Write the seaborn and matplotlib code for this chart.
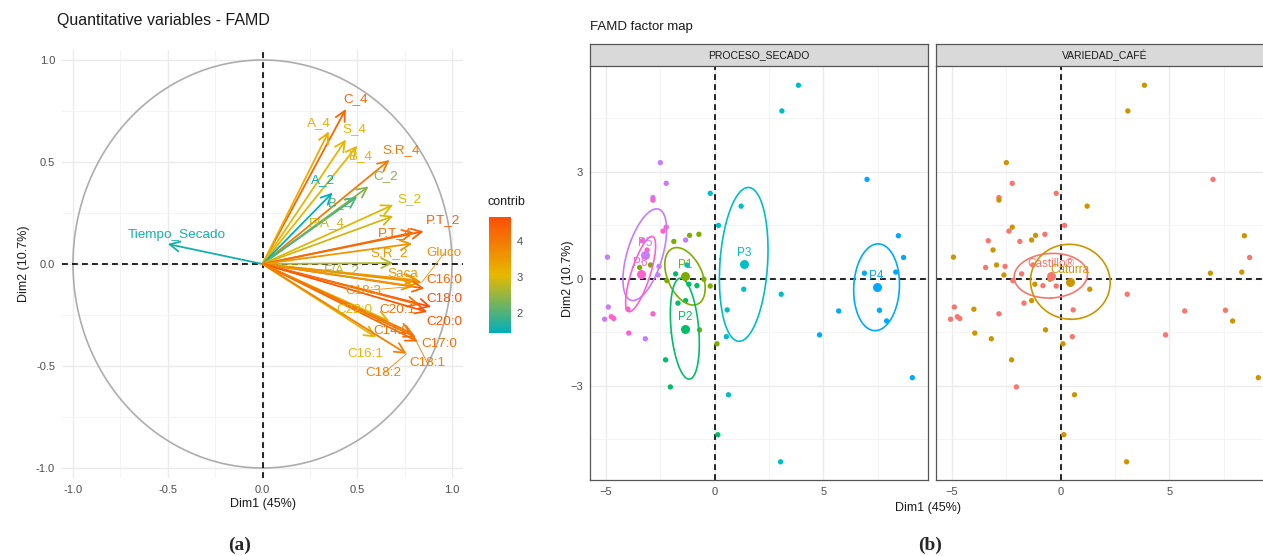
import numpy as np
import pandas as pd
import matplotlib
matplotlib.use("Agg")
import matplotlib.pyplot as plt
import seaborn as sns
from matplotlib.colors import LinearSegmentedColormap, Normalize
from matplotlib.cm import ScalarMappable

# ---- Quantitative variables: coordinates on Dim1/Dim2 and contribution ----
var_names = ["Tiempo_Secado", "C_4", "A_4", "S_4", "B_4", "S.R_4", "A_2", "C_2",
             "B_2", "S_2", "F/A_4", "P.T_2", "P.T_4", "S.R_2", "Gluco", "F/A_2",
             "Saca", "C16:0", "C18:3", "C18:0", "C20:1", "C20:0", "C22:0",
             "C14:0", "C17:0", "C16:1", "C18:1", "C18:2"]
var_dim1 = [-0.50, 0.44, 0.35, 0.44, 0.50, 0.67, 0.37, 0.56,
            0.50, 0.69, 0.69, 0.85, 0.80, 0.79, 0.84, 0.69,
            0.82, 0.855, 0.80, 0.89, 0.83, 0.87, 0.67,
            0.81, 0.82, 0.60, 0.79, 0.76]
var_dim2 = [0.098, 0.76, 0.65, 0.61, 0.58, 0.51, 0.35, 0.38,
            0.33, 0.29, 0.235, 0.16, 0.155, 0.10, -0.09, 0.005,
            -0.08, -0.12, -0.11, -0.21, -0.20, -0.235, -0.28,
            -0.36, -0.38, -0.36, -0.34, -0.44]
var_contrib = [1.60, 4.30, 3.20, 3.10, 3.10, 4.00, 1.45, 2.40,
               2.00, 3.00, 2.90, 4.40, 4.20, 3.60, 3.70, 2.70,
               3.60, 4.30, 3.60, 4.67, 4.10, 4.50, 3.00,
               4.10, 4.20, 3.10, 4.00, 3.90]

# text placement for the variable labels (repelled positions)
label_dim1 = [-0.45, 0.49, 0.30, 0.485, 0.52, 0.73, 0.32, 0.65,
              0.41, 0.775, 0.34, 0.955, 0.70, 0.67, 0.96, 0.42,
              0.74, 0.96, 0.53, 0.96, 0.71, 0.96, 0.485,
              0.68, 0.935, 0.54, 0.87, 0.64]
label_dim2 = [0.14, 0.81, 0.69, 0.66, 0.53, 0.56, 0.41, 0.43,
              0.30, 0.32, 0.20, 0.215, 0.15, 0.054, 0.054, -0.03,
              -0.05, -0.08, -0.13, -0.17, -0.225, -0.285, -0.225,
              -0.33, -0.39, -0.44, -0.485, -0.535]
segment_vars = ["Gluco", "Saca", "C18:3", "C18:1", "C18:2"]

# ---- Individuals: coordinates, drying process and coffee variety ----
ind_dim1 = [-2.49, -2.22, -2.83, -1.33, -4.92, -2.55, -2.60, -4.88, -5.05, -3.18,
            -2.83, -2.22, -2.37, -3.32, -3.10, -3.98, -4.74, -4.63, -2.83, -3.94,
            -1.87, -1.15, -0.72, -2.94, -3.44, -2.19, -0.20, -0.69, 0.11, -0.49,
            -1.79, -1.18, -0.81, -1.68, -1.33, -2.25, -2.03, 0.15,
            -0.20, 1.22, 0.18, -1.27, 1.34, 0.58, 0.54, 3.06, 0.64, 3.85, 3.09, 3.03,
            7.00, 8.44, 8.68, 6.88, 8.32, 7.57, 7.90, 5.70, 4.82, 9.08]
ind_dim2 = [3.26, 2.68, 2.28, 1.09, 0.61, 0.35, 0.11, -0.79, -1.13, -1.68,
            2.21, 1.45, 1.34, 1.07, 0.81, -0.85, -1.06, -1.11, -0.98, -1.52,
            1.05, 1.22, 1.25, 0.39, 0.32, -0.05, -0.20, -1.43, -1.82, -0.01,
            0.14, -0.15, -0.19, -0.68, -0.61, -2.27, -3.03, -4.37,
            2.40, 2.04, 1.50, 0.39, -0.29, -0.87, -1.62, -0.43, -3.25, 5.43, 4.71, -5.13,
            2.79, 1.21, 0.60, 0.16, 0.19, -0.88, -1.18, -0.90, -1.57, -2.77]
ind_proceso = (["P5"] * 10 + ["P6"] * 10 + ["P1"] * 10 + ["P2"] * 8
               + ["P3"] * 12 + ["P4"] * 10)
CA, CT = "Castillo®", "Caturra"
ind_variedad = [CT, CA, CA, CT, CT, CA, CT, CA, CA, CT,
                CT, CT, CA, CA, CT, CT, CA, CA, CA, CT,
                CA, CT, CA, CT, CA, CA, CA, CT, CT, CT,
                CA, CT, CA, CA, CT, CT, CA, CT,
                CA, CT, CA, CA, CT, CA, CA, CA, CT, CT, CT, CT,
                CA, CT, CA, CT, CT, CA, CT, CA, CA, CT]

proceso_levels = ["P1", "P2", "P3", "P4", "P5", "P6"]
variedad_levels = [CA, CT]
group_palette = {CA: "#F8766D", CT: "#CD9600", "P1": "#7CAE00", "P2": "#00BE67",
                 "P3": "#00BFC4", "P4": "#00A9FF", "P5": "#C77CFF", "P6": "#FF61CC"}

df = pd.DataFrame({"dim1": ind_dim1, "dim2": ind_dim2,
                   "proceso": ind_proceso, "variedad": ind_variedad})

sns.set_theme(style="white")
plt.rcParams["font.family"] = ["Liberation Sans", "DejaVu Sans"]

W, H = 1263, 556
fig = plt.figure(figsize=(W / 100, H / 100), dpi=100)
fig.patch.set_facecolor("white")


def box(x0, y0, x1, y1):
    return [x0 / W, 1 - y1 / H, (x1 - x0) / W, (y1 - y0) / H]


GRID = "#EBEBEB"
TICK_TXT = "#4D4D4D"

# ================= (a) correlation circle =================
ax = fig.add_axes(box(62, 50, 463, 478))
ax.set_xlim(-1.058, 1.058)
ax.set_ylim(-1.049, 1.049)
ax.set_xticks([-1.0, -0.5, 0.0, 0.5, 1.0])
ax.set_yticks([-1.0, -0.5, 0.0, 0.5, 1.0])
ax.set_xticks([-0.75, -0.25, 0.25, 0.75], minor=True)
ax.set_yticks([-0.75, -0.25, 0.25, 0.75], minor=True)
ax.set_xticklabels(["-1.0", "-0.5", "0.0", "0.5", "1.0"])
ax.set_yticklabels(["-1.0", "-0.5", "0.0", "0.5", "1.0"])
ax.grid(which="major", color=GRID, lw=1.0)
ax.grid(which="minor", color="#F3F3F3", lw=0.6)
ax.set_axisbelow(True)
for s in ax.spines.values():
    s.set_visible(False)
ax.tick_params(which="major", length=3, width=0.8, color="#333333",
               labelsize=8, labelcolor=TICK_TXT, pad=2)
ax.tick_params(which="minor", length=0)

theta = np.linspace(0, 2 * np.pi, 400)
ax.plot(np.cos(theta), np.sin(theta), color="#ADADAD", lw=1.2, zorder=1)
ax.axhline(0, color="black", ls=(0, (3.5, 2.5)), lw=1.2, zorder=2)
ax.axvline(0, color="black", ls=(0, (3.5, 2.5)), lw=1.2, zorder=2)

cmap = LinearSegmentedColormap.from_list("contrib", ["#00AFBB", "#E7B800", "#FC4E07"])
norm = Normalize(vmin=min(var_contrib), vmax=max(var_contrib))

for name, x, y, c, lx, ly in zip(var_names, var_dim1, var_dim2, var_contrib,
                                 label_dim1, label_dim2):
    col = cmap(norm(c))
    ax.annotate("", xy=(x, y), xytext=(0, 0),
                arrowprops=dict(arrowstyle="->,head_length=0.6,head_width=0.3",
                                color=col, lw=1.3, shrinkA=0, shrinkB=0), zorder=3)
    if name in segment_vars:
        ax.plot([lx, x], [ly, y], color=col, lw=0.6, zorder=3)
    ax.text(lx, ly, name, color=col, fontsize=9.7, ha="center", va="center", zorder=4)

ax.set_xlabel("Dim1 (45%)", fontsize=9, color="#1A1A1A", labelpad=2)
ax.set_ylabel("Dim2 (10.7%)", fontsize=9, color="#1A1A1A", labelpad=4)
fig.text(57 / W, 1 - 20 / H, "Quantitative variables - FAMD", fontsize=11.5,
         ha="left", va="center", color="#1A1A1A")

cax = fig.add_axes(box(489, 217, 511, 333))
cb = fig.colorbar(ScalarMappable(norm=norm, cmap=cmap), cax=cax, ticks=[2, 3, 4])
cb.outline.set_visible(False)
cax.tick_params(direction="in", length=4, width=0.8, color="white",
                left=True, right=True, labelsize=8, labelcolor=TICK_TXT, pad=4)
fig.text(488 / W, 1 - 202 / H, "contrib", fontsize=9, ha="left", va="center",
         color="#1A1A1A")

# ================= (b) factor map, faceted =================
XL = (-5.72, 9.8)
YL = (-5.64, 5.97)


def conf_ellipse(x, y, level_chi2=5.991, n_pts=200):
    pts = np.column_stack([x, y])
    m = pts.mean(axis=0)
    cov = np.cov(pts, rowvar=False) / len(pts)
    vals, vecs = np.linalg.eigh(cov)
    t = np.linspace(0, 2 * np.pi, n_pts)
    circ = np.column_stack([np.cos(t), np.sin(t)])
    ell = circ @ (vecs * np.sqrt(vals * level_chi2)).T + m
    return m, ell


facets = [("PROCESO_SECADO", "proceso", proceso_levels, 590),
          ("VARIEDAD_CAFÉ", "variedad", variedad_levels, 936)]

for i, (title, col, levels, x0) in enumerate(facets):
    axf = fig.add_axes(box(x0, 66, x0 + 338, 480))
    axf.set_xlim(*XL)
    axf.set_ylim(*YL)
    axf.set_xticks([-5, 0, 5])
    axf.set_xticks([-2.5, 2.5, 7.5], minor=True)
    axf.set_yticks([-3, 0, 3])
    axf.set_yticks([-4.5, -1.5, 1.5, 4.5], minor=True)
    axf.grid(which="major", color=GRID, lw=1.0)
    axf.grid(which="minor", color="#F3F3F3", lw=0.6)
    axf.set_axisbelow(True)
    for s in axf.spines.values():
        s.set_color("#555555")
        s.set_linewidth(0.9)
    axf.spines["top"].set_visible(False)
    axf.tick_params(which="major", length=3, width=0.8, color="#333333",
                    labelsize=8, labelcolor=TICK_TXT, pad=2)
    axf.tick_params(which="minor", length=0)
    if i > 0:
        axf.tick_params(axis="y", labelleft=False, length=0)

    axf.axhline(0, color="black", ls=(0, (3.5, 2.5)), lw=1.2, zorder=2)
    axf.axvline(0, color="black", ls=(0, (3.5, 2.5)), lw=1.2, zorder=2)

    sns.scatterplot(data=df, x="dim1", y="dim2", hue=col, hue_order=levels,
                    palette=group_palette, s=15, linewidth=0, legend=False,
                    ax=axf, zorder=3)
    for lev in levels:
        sub = df[df[col] == lev]
        m, ell = conf_ellipse(sub["dim1"].values, sub["dim2"].values)
        c = group_palette[lev]
        axf.plot(ell[:, 0], ell[:, 1], color=c, lw=1.2, zorder=3)
        axf.scatter([m[0]], [m[1]], s=42, color=c, linewidths=0, zorder=4)
        axf.text(m[0], m[1] + 0.32, lev, color=c, fontsize=8.5, ha="center",
                 va="center", zorder=5)
    axf.set_xlabel("")
    axf.set_ylabel("")

    sax = fig.add_axes(box(x0, 44, x0 + 338, 66))
    sax.set_facecolor("#D9D9D9")
    sax.set_xticks([])
    sax.set_yticks([])
    for s in sax.spines.values():
        s.set_color("#555555")
        s.set_linewidth(0.9)
    sax.text(0.5, 0.5, title, transform=sax.transAxes, ha="center", va="center",
             fontsize=7.5, color="#1A1A1A")

fig.text(590 / W, 1 - 27 / H, "FAMD factor map", fontsize=9.5, ha="left",
         va="center", color="#1A1A1A")
fig.text(928 / W, 1 - 508 / H, "Dim1 (45%)", fontsize=9, ha="center",
         va="center", color="#1A1A1A")
fig.text(568 / W, 1 - 279 / H, "Dim2 (10.7%)", fontsize=9, ha="center",
         va="center", rotation=90, color="#1A1A1A")

# panel captions
fig.text(240 / W, 1 - 545 / H, "(a)", fontsize=14, fontweight="bold",
         family=["Liberation Serif", "DejaVu Serif"], ha="center", va="center")
fig.text(930 / W, 1 - 545 / H, "(b)", fontsize=14, fontweight="bold",
         family=["Liberation Serif", "DejaVu Serif"], ha="center", va="center")

fig.savefig("out.png", dpi=100, facecolor="white")
